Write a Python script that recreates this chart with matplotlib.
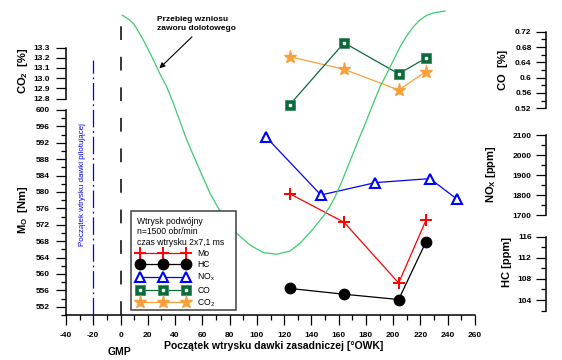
import matplotlib
matplotlib.use("Agg")
import matplotlib.pyplot as plt
from matplotlib.patches import Rectangle
from matplotlib.ticker import MultipleLocator, FuncFormatter

plt.rcParams['font.family'] = ['Liberation Sans', 'DejaVu Sans']
plt.rcParams['font.weight'] = 'bold'
plt.rcParams['mathtext.default'] = 'regular'
plt.rcParams['axes.unicode_minus'] = False

#dane
kat = [124, 164, 204, 224]              # kat poczatku wtrysku dla Mo, HC, CO, CO2
kat_nox = [107, 147, 187, 227, 247]
mo = [579.6, 572.6, 557.8, 573.1]       # Nm
hc = [106.2, 105.1, 104.1, 115.0]       # ppm
nox = [2088, 1800, 1862, 1882, 1778]    # ppm
co = [0.529, 0.691, 0.610, 0.651]       # %
co2 = [13.21, 13.086, 12.883, 13.063]   # %

#przebieg wzniosu zaworu dolotowego (jednostki umowne, bez osi)
kat_zawor = [1.32, 5.50, 9.39, 12.84, 16.72, 24.06, 28.97, 33.89, 38.14, 42.40,
             48.56, 55.89, 65.65, 75.40, 85.23, 94.99, 104.75, 114.57, 124.33,
             131.67, 141.20, 149.27, 152.94, 157.34, 162.47, 168.34, 174.21,
             180.59, 185.21, 190.34, 197.68, 205.02, 209.42, 214.55, 219.69,
             224.82, 230.69, 238.02]
wznios = [9.52, 9.40, 9.26, 9.02, 8.73, 8.10, 7.65, 7.24, 6.79, 6.29,
          5.56, 4.82, 3.86, 3.12, 2.59, 2.22, 1.98, 1.93, 2.03,
          2.28, 2.73, 3.17, 3.40, 3.75, 4.25, 4.89, 5.52,
          6.19, 6.70, 7.24, 7.87, 8.51, 8.83, 9.14, 9.37,
          9.52, 9.60, 9.65]

gmp = 0
pilot = -20

C_MO = '#ff0000'
C_HC = '#000000'
C_NOX = '#0000ff'
C_CO = '#0b6a3a'
C_CO2 = '#f9a03c'
C_ZAWOR = '#3ccc6c'

W, H = 562, 360
X0, X1 = 66, 475
fig = plt.figure(figsize=(W / 100, H / 100), dpi=100)


def fx(px):
    return px / W


def fy(py):
    return 1 - py / H


def box(top, bottom):
    return [fx(X0), fy(bottom), (X1 - X0) / W, (bottom - top) / H]


def fmt(v, p):
    return f"{round(v, 4):g}"


def styl(ax, ylim, major, minor=None, pos=0.0, pad=4.5):
    ax.set_xlim(-40, 260)
    ax.set_ylim(*ylim)
    ax.patch.set_visible(False)
    for s in ['top', 'right', 'bottom']:
        ax.spines[s].set_visible(False)
    ax.spines['left'].set_position(('axes', pos))
    ax.spines['left'].set_linewidth(1.1)
    ax.yaxis.set_major_locator(MultipleLocator(major))
    if minor:
        ax.yaxis.set_minor_locator(MultipleLocator(minor))
    ax.yaxis.set_major_formatter(FuncFormatter(fmt))
    ax.tick_params(axis='y', which='major', length=7, width=0.9, labelsize=6, pad=pad)
    ax.tick_params(axis='y', which='minor', length=3.5, width=0.9)
    ax.set_xticks([])


pos_r = (545.5 - X0) / (X1 - X0)

#moment obrotowy - os glowna z osia X
ax_mo = fig.add_axes(box(110, 315))
styl(ax_mo, (550, 600), 4, 2)
ax_mo.spines['bottom'].set_visible(True)
ax_mo.spines['bottom'].set_linewidth(1.1)
ax_mo.set_xticks(range(-40, 261, 20))
ax_mo.xaxis.set_minor_locator(MultipleLocator(10))
ax_mo.tick_params(axis='x', which='major', length=7, width=0.9, labelsize=6, pad=5)
ax_mo.tick_params(axis='x', which='minor', length=3.5, width=0.9)

ax_co2 = fig.add_axes(box(47.5, 98.5))
styl(ax_co2, (12.8, 13.3), 0.1)
ax_co2.yaxis.set_major_formatter(FuncFormatter(lambda v, p: f"{v:.1f}"))

ax_co = fig.add_axes(box(31.7, 108.3))
styl(ax_co, (0.52, 0.72), 0.04, 0.02, pos=pos_r, pad=3)

ax_nox = fig.add_axes(box(135, 215))
styl(ax_nox, (1700, 2100), 100, 50, pos=pos_r, pad=3)

ax_hc = fig.add_axes(box(236.7, 310.6))
styl(ax_hc, (102, 116), 4, 2, pos=pos_r, pad=3)

#serie
h_mo, = ax_mo.plot(kat, mo, color=C_MO, lw=0.9, marker='+', ms=9, mew=1.4, clip_on=False)
h_hc, = ax_hc.plot(kat, hc, color=C_HC, lw=0.9, marker='o', ms=7.5, clip_on=False)
h_nox, = ax_nox.plot(kat_nox, nox, color=C_NOX, lw=0.9, marker='^', ms=7, mew=1.5,
                     mfc='white', clip_on=False)
h_co, = ax_co.plot(kat, co, color=C_CO, lw=0.9, marker='s', ms=7, mec='#3c8a5c', mew=0.6,
                   clip_on=False)
h_co_in, = ax_co.plot(kat, co, ls='none', marker='s', ms=2, color='white', clip_on=False)
h_co2, = ax_co2.plot(kat, co2, color=C_CO2, lw=0.9, marker='*', ms=9.5, clip_on=False)

#wznios zaworu + linie pomocnicze
ax_l = fig.add_axes(box(0, 315))
ax_l.set_xlim(-40, 260)
ax_l.set_ylim(0, 10)
ax_l.axis('off')
ax_l.plot(kat_zawor, wznios, color=C_ZAWOR, lw=0.9, clip_on=False)
ax_l.vlines(gmp, 0, 9.2, colors='black', lw=1.1, linestyles=(0, (9, 11)))
ax_l.vlines(pilot, 0, 8.1, colors=C_NOX, lw=0.9, linestyles=(0, (14, 3, 1.5, 3)))
ax_l.annotate('', xy=(28.5, 7.83), xytext=(52.4, 8.83),
              arrowprops=dict(arrowstyle='-|>', color='black', lw=0.8,
                              mutation_scale=8, shrinkA=0, shrinkB=0))

fig.text(fx(157), fy(24), 'Przebieg wzniosu\nzaworu dolotowego', fontsize=6,
         ha='left', va='center', linespacing=1.35)
fig.text(fx(83), fy(185), 'Początek wtrysku dawki pilotującej', fontsize=5.8,
         weight='normal', color=C_NOX, rotation=90, ha='center', va='center')

#opisy osi
fig.text(fx(23), fy(71), 'CO$_2$  [%]', fontsize=8, rotation=90, ha='center', va='center')
fig.text(fx(23), fy(210), 'M$_O$  [Nm]', fontsize=8, rotation=90, ha='center', va='center')
fig.text(fx(503), fy(70), 'CO  [%]', fontsize=8, rotation=90, ha='center', va='center')
fig.text(fx(491), fy(174), 'NO$_X$ [ppm]', fontsize=8, rotation=90, ha='center', va='center')
fig.text(fx(507), fy(262), 'HC [ppm]', fontsize=8, rotation=90, ha='center', va='center')
fig.text(fx(274), fy(346), 'Początek wtrysku dawki zasadniczej [°OWK]', fontsize=7.5,
         ha='center', va='center')
fig.text(fx(119), fy(352), 'GMP', fontsize=7.5, ha='center', va='center')

#ramka legendy rysowana osobno
ramka = Rectangle((fx(131), fy(310)), fx(236) - fx(131), fy(210.7) - fy(310),
                  transform=fig.transFigure, facecolor='white', edgecolor='#404040',
                  lw=1.1, zorder=4)
ax_l.add_patch(ramka)

leg = ax_l.legend([h_mo, h_hc, h_nox, (h_co, h_co_in), h_co2],
                  ['Mo', 'HC', 'NO$_x$', 'CO', 'CO$_2$'],
                  title='Wtrysk podwójny\nn=1500 obr/min\nczas wtrysku 2x7,1 ms',
                  alignment='left', loc='upper left',
                  bbox_to_anchor=(fx(131), fy(210.7)), bbox_transform=fig.transFigure,
                  borderaxespad=0, borderpad=0.7, numpoints=3, handlelength=6.0,
                  handletextpad=1.0, labelspacing=0.28,
                  prop={'size': 6.2, 'weight': 'normal'},
                  title_fontproperties={'size': 6.2, 'weight': 'normal'},
                  frameon=False)
leg.set_zorder(5)

fig.savefig('out.png', dpi=100)
